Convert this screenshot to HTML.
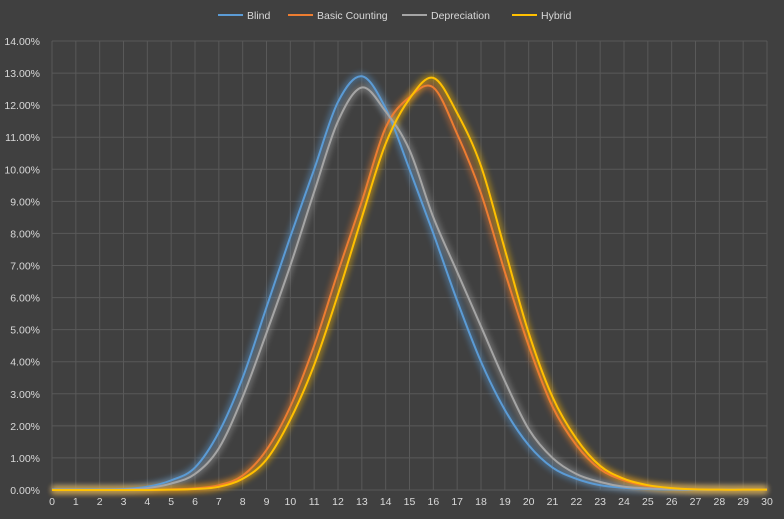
<!DOCTYPE html>
<html><head><meta charset="utf-8"><style>
html,body{margin:0;padding:0;background:#404040;}
svg{display:block;font-family:"Liberation Sans",sans-serif;}
</style></head><body>
<svg id="chart" width="784" height="519" viewBox="0 0 784 519" xmlns="http://www.w3.org/2000/svg">
<defs>
<filter id="glow" x="-20%" y="-20%" width="140%" height="140%"><feGaussianBlur stdDeviation="3"/></filter>
</defs>
<rect width="784" height="519" fill="#404040"/>
<g id="grid"></g>
<g id="yticks"></g>
<g id="xticks"></g>
<g id="series"></g>
<g id="legend"></g>
</svg>
<script>
const xCategories = Array.from({length:31},(_,i)=>i);
const yTickValues = [0,1,2,3,4,5,6,7,8,9,10,11,12,13,14];
const seriesNames = ["Blind","Basic Counting","Depreciation","Hybrid"];
const blindValues = [0.02,0.02,0.02,0.03,0.1,0.3,0.7,1.8,3.5,5.7,7.9,10.0,12.1,12.9,11.9,10.0,8.0,5.9,4.0,2.5,1.4,0.7,0.35,0.15,0.07,0.03,0.01,0.01,0.01,0.01,0.01];
const basicValues = [0,0,0,0,0,0.02,0.05,0.15,0.45,1.25,2.6,4.5,6.8,9.0,11.3,12.25,12.55,11.1,9.25,6.8,4.5,2.6,1.4,0.65,0.3,0.12,0.05,0.02,0.01,0.01,0.01];
const deprecValues = [0.01,0.01,0.01,0.02,0.06,0.2,0.5,1.3,2.9,4.9,7.0,9.3,11.5,12.55,11.8,10.6,8.5,6.8,5.1,3.4,1.9,1.0,0.5,0.25,0.1,0.05,0.02,0.01,0.01,0.01,0.01];
const hybridValues = [0,0,0,0,0,0.01,0.03,0.1,0.35,0.95,2.2,3.9,6.1,8.5,10.8,12.2,12.85,11.75,10.1,7.5,4.9,2.9,1.6,0.75,0.35,0.15,0.06,0.02,0.01,0.01,0.01];
const seriesColors = ["#5b9bd5","#ed7d31","#a5a5a5","#ffc000"];

const X0=52,X1=767,Y0=490,Y1=41;
const xScale=v=>X0+(v-xCategories[0])/(xCategories[xCategories.length-1]-xCategories[0])*(X1-X0);
const yScale=v=>Y0-(v-yTickValues[0])/(yTickValues[yTickValues.length-1]-yTickValues[0])*(Y0-Y1);
const NS="http://www.w3.org/2000/svg";
function mk(tag,attrs,parent){const e=document.createElementNS(NS,tag);for(const k in attrs)e.setAttribute(k,attrs[k]);parent.appendChild(e);return e;}

const grid=document.getElementById('grid');
yTickValues.forEach(v=>{
  const l=mk('line',{x1:X0,x2:X1,y1:yScale(v),y2:yScale(v),stroke:'#595959','stroke-width':1},grid);
  
  
  const t=mk('text',{x:40,y:yScale(v)+4,'text-anchor':'end','font-size':'10.5',fill:'#d9d9d9'},document.getElementById('yticks'));
  t.textContent=v.toFixed(2)+'%';
  
  
});
xCategories.forEach(v=>{
  const l=mk('line',{x1:xScale(v),x2:xScale(v),y1:Y1,y2:Y0,stroke:'#595959','stroke-width':1},grid);
  
  
  const t=mk('text',{x:xScale(v),y:Y0+15,'text-anchor':'middle','font-size':'10.5',fill:'#d9d9d9'},document.getElementById('xticks'));
  t.textContent=v;
  
  
});

function pathFor(vals){
  const p=vals.map((v,i)=>[xScale(xCategories[i]),yScale(v)]);
  let d='M'+p[0][0]+','+p[0][1];
  for(let i=0;i<p.length-1;i++){
    const a=p[Math.max(0,i-1)],b=p[i],c=p[i+1],e=p[Math.min(p.length-1,i+2)];
    const c1=[b[0]+(c[0]-a[0])/6,b[1]+(c[1]-a[1])/6];
    const c2=[c[0]-(e[0]-b[0])/6,c[1]-(e[1]-b[1])/6];
    d+=` C${c1[0]},${c1[1]} ${c2[0]},${c2[1]} ${c[0]},${c[1]}`;
  }
  return d;
}
const allSeries=[blindValues,basicValues,deprecValues,hybridValues];
const sg=document.getElementById('series');
const keys=['blind','basic-counting','depreciation','hybrid'];
allSeries.forEach((vals,i)=>{
  const d=pathFor(vals);
  const g=mk('path',{d:d,fill:'none',stroke:seriesColors[i],'stroke-width':7,opacity:0.45,filter:'url(#glow)'},sg);
  
  
});
allSeries.forEach((vals,i)=>{
  const d=pathFor(vals);
  const l=mk('path',{d:d,fill:'none',stroke:seriesColors[i],'stroke-width':2,'stroke-linejoin':'round'},sg);
  
  
});

const lg=document.getElementById('legend');
const legendX=[218,288,402,512];
seriesNames.forEach((n,i)=>{
  const l=mk('line',{x1:legendX[i],x2:legendX[i]+25,y1:15,y2:15,stroke:seriesColors[i],'stroke-width':2},lg);
  
  
  const t=mk('text',{x:legendX[i]+29,y:19,'font-size':'10.5',fill:'#d9d9d9'},lg);
  t.textContent=n;
  
  
});
</script>
</body></html>
